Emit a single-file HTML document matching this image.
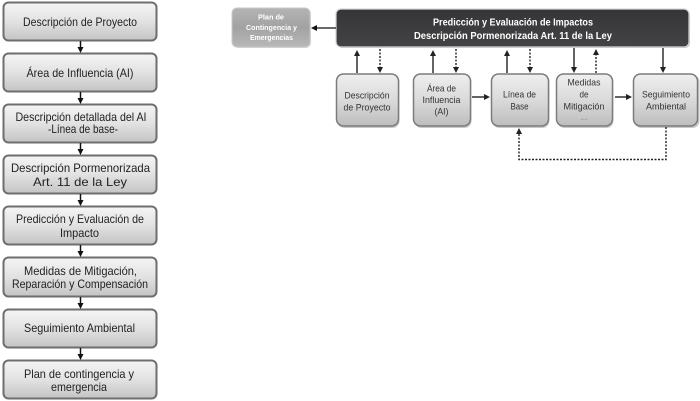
<!DOCTYPE html>
<html><head><meta charset="utf-8"><style>
html,body{margin:0;padding:0;background:#fff;}
svg{display:block;}
text{font-family:"Liberation Sans",sans-serif;}
</style></head><body>
<svg width="700" height="401" viewBox="0 0 700 401" xmlns="http://www.w3.org/2000/svg">
<defs>
<linearGradient id="gl" x1="0" y1="0" x2="0" y2="1">
<stop offset="0" stop-color="#f5f5f5"/><stop offset="0.5" stop-color="#e2e2e2"/><stop offset="1" stop-color="#c4c4c4"/>
</linearGradient>
<linearGradient id="gr" x1="0" y1="0" x2="0" y2="1">
<stop offset="0" stop-color="#efefef"/><stop offset="0.5" stop-color="#dadada"/><stop offset="1" stop-color="#bdbdbd"/>
</linearGradient>
<linearGradient id="gd" x1="0" y1="0" x2="0" y2="1">
<stop offset="0" stop-color="#353537"/><stop offset="1" stop-color="#434345"/>
</linearGradient>
<linearGradient id="gp" x1="0" y1="0" x2="0" y2="1">
<stop offset="0" stop-color="#b4b4b4"/><stop offset="0.5" stop-color="#a2a2a2"/><stop offset="1" stop-color="#b8b8b8"/>
</linearGradient>
</defs>

<!-- LEFT COLUMN -->
<g stroke="#6e6e6e" stroke-width="2" fill="url(#gl)">
<rect x="3.5" y="2.5" width="153" height="38" rx="5"/>
<rect x="3.5" y="53.5" width="153" height="38" rx="5"/>
<rect x="3.5" y="104.5" width="153" height="38" rx="5"/>
<rect x="3.5" y="155.5" width="153" height="38" rx="5"/>
<rect x="3.5" y="206.5" width="153" height="38" rx="5"/>
<rect x="3.5" y="257.5" width="153" height="39" rx="5"/>
<rect x="3.5" y="309.5" width="153" height="38" rx="5"/>
<rect x="3.5" y="360.5" width="153" height="38" rx="5"/>
</g>
<g stroke="#111" stroke-width="1.5">
<line x1="80.5" y1="41" x2="80.5" y2="48"/>
<line x1="80.5" y1="92" x2="80.5" y2="99"/>
<line x1="80.5" y1="143" x2="80.5" y2="150"/>
<line x1="80.5" y1="194" x2="80.5" y2="201"/>
<line x1="80.5" y1="245" x2="80.5" y2="252"/>
<line x1="80.5" y1="297" x2="80.5" y2="304"/>
<line x1="80.5" y1="348" x2="80.5" y2="355"/>
</g>
<g fill="#111">
<polygon points="77.5,47 83.5,47 80.5,53"/>
<polygon points="77.5,98 83.5,98 80.5,104"/>
<polygon points="77.5,149 83.5,149 80.5,155"/>
<polygon points="77.5,200 83.5,200 80.5,206"/>
<polygon points="77.5,251 83.5,251 80.5,257"/>
<polygon points="77.5,303 83.5,303 80.5,309"/>
<polygon points="77.5,354 83.5,354 80.5,360"/>
</g>
<g font-size="12" fill="#222" text-anchor="middle">
<text x="80" y="26" textLength="114" lengthAdjust="spacingAndGlyphs">Descripción de Proyecto</text>
<text x="80" y="77" textLength="107" lengthAdjust="spacingAndGlyphs">Área de Influencia (AI)</text>
<text x="81" y="121" textLength="131" lengthAdjust="spacingAndGlyphs">Descripción detallada del AI</text>
<text x="83" y="133" textLength="70" lengthAdjust="spacingAndGlyphs">-Línea de base-</text>
<text x="80.5" y="172" textLength="139" lengthAdjust="spacingAndGlyphs">Descripción Pormenorizada</text>
<text x="80" y="186" textLength="94" lengthAdjust="spacingAndGlyphs">Art. 11 de la Ley</text>
<text x="80" y="223" textLength="128" lengthAdjust="spacingAndGlyphs">Predicción y Evaluación de</text>
<text x="79.5" y="237" textLength="39" lengthAdjust="spacingAndGlyphs">Impacto</text>
<text x="80.5" y="275" textLength="113" lengthAdjust="spacingAndGlyphs">Medidas de Mitigación,</text>
<text x="80" y="288" textLength="136" lengthAdjust="spacingAndGlyphs">Reparación y Compensación</text>
<text x="79.5" y="332" textLength="111" lengthAdjust="spacingAndGlyphs">Seguimiento Ambiental</text>
<text x="79" y="378" textLength="110" lengthAdjust="spacingAndGlyphs">Plan de contingencia  y</text>
<text x="79" y="391" textLength="56" lengthAdjust="spacingAndGlyphs">emergencia</text>
</g>

<!-- RIGHT DIAGRAM -->
<rect x="233" y="9" width="78" height="39" rx="5" fill="#d8d8d8"/>
<rect x="232" y="8" width="78" height="39" rx="5" fill="url(#gp)" stroke="#c8c8c8" stroke-width="1"/>
<g font-size="7" font-weight="bold" fill="#fff" text-anchor="middle">
<text x="271" y="19.5" textLength="26" lengthAdjust="spacingAndGlyphs">Plan de</text>
<text x="271.5" y="30" textLength="51" lengthAdjust="spacingAndGlyphs">Contingencia y</text>
<text x="271.5" y="40" textLength="43" lengthAdjust="spacingAndGlyphs">Emergencias</text>
</g>

<rect x="337" y="10" width="353" height="38" rx="5" fill="#bdbdbd"/>
<rect x="336" y="9" width="353" height="38" rx="5" fill="url(#gd)" stroke="#d6d6d6" stroke-width="1.2"/>
<g font-size="10" font-weight="bold" fill="#fff" text-anchor="middle">
<text x="513" y="25.5" textLength="160" lengthAdjust="spacingAndGlyphs">Predicción y Evaluación  de Impactos</text>
<text x="513" y="39" textLength="198" lengthAdjust="spacingAndGlyphs">Descripción Pormenorizada  Art. 11 de la Ley</text>
</g>

<line x1="336" y1="28" x2="316" y2="28" stroke="#111" stroke-width="1.3"/>
<polygon points="311,28 317,25 317,31" fill="#111"/>

<g fill="#c9c9c9">
<rect x="337.5" y="75" width="62" height="53" rx="7"/>
<rect x="414.5" y="75" width="57" height="53" rx="7"/>
<rect x="492.5" y="75" width="57" height="53" rx="7"/>
<rect x="557.5" y="75" width="56" height="53" rx="7"/>
<rect x="634.5" y="75" width="65" height="53" rx="7"/>
</g>
<g stroke="#7c7c7c" stroke-width="1.5" fill="url(#gr)">
<rect x="336.5" y="74" width="62" height="52" rx="7"/>
<rect x="413.5" y="74" width="57" height="52" rx="7"/>
<rect x="491.5" y="74" width="57" height="52" rx="7"/>
<rect x="556.5" y="74" width="56" height="52" rx="7"/>
<rect x="633.5" y="74" width="64" height="52" rx="7"/>
</g>
<g font-size="9.5" fill="#333" text-anchor="middle">
<text x="367" y="98.5" textLength="45" lengthAdjust="spacingAndGlyphs">Descripción</text>
<text x="367" y="110.5" textLength="47" lengthAdjust="spacingAndGlyphs">de Proyecto</text>
<text x="441.5" y="91.5" textLength="29" lengthAdjust="spacingAndGlyphs">Área de</text>
<text x="441.5" y="103" textLength="38" lengthAdjust="spacingAndGlyphs">Influencia</text>
<text x="441.5" y="114.5" textLength="14" lengthAdjust="spacingAndGlyphs">(AI)</text>
<text x="519.5" y="97.5" textLength="33" lengthAdjust="spacingAndGlyphs">Línea de</text>
<text x="519.5" y="109.5" textLength="18" lengthAdjust="spacingAndGlyphs">Base</text>
<text x="584" y="85.5" textLength="33" lengthAdjust="spacingAndGlyphs">Medidas</text>
<text x="584" y="97.5" textLength="9" lengthAdjust="spacingAndGlyphs">de</text>
<text x="584" y="109.5" textLength="41" lengthAdjust="spacingAndGlyphs">Mitigación</text>
<text x="666" y="97.5" textLength="48" lengthAdjust="spacingAndGlyphs">Seguimiento</text>
<text x="666" y="109.5" textLength="40" lengthAdjust="spacingAndGlyphs">Ambiental</text>
</g>
<text x="584" y="119.5" font-size="5" fill="#555" text-anchor="middle">.....</text>

<g stroke="#222" stroke-width="1.4">
<line x1="357" y1="73" x2="357" y2="55"/>
<line x1="433" y1="73" x2="433" y2="55"/>
<line x1="507" y1="73" x2="507" y2="55"/>
<line x1="574" y1="48" x2="574" y2="67"/>
<line x1="663" y1="48" x2="663" y2="67"/>
</g>
<g fill="#222">
<polygon points="357,50 354,56 360,56"/>
<polygon points="433,50 430,56 436,56"/>
<polygon points="507,50 504,56 510,56"/>
<polygon points="574,73 571,67 577,67"/>
<polygon points="663,73 660,67 666,67"/>
</g>
<g stroke="#222" stroke-width="1.4" stroke-dasharray="2,1.5">
<line x1="380" y1="49" x2="380" y2="67"/>
<line x1="456" y1="49" x2="456" y2="67"/>
<line x1="530" y1="49" x2="530" y2="67"/>
<line x1="596" y1="73" x2="596" y2="55"/>
</g>
<g fill="#222">
<polygon points="380,73 377,67 383,67"/>
<polygon points="456,73 453,67 459,67"/>
<polygon points="530,73 527,67 533,67"/>
<polygon points="596,49 593,55 599,55"/>
</g>

<line x1="472" y1="97" x2="485" y2="97" stroke="#222" stroke-width="1.4"/>
<polygon points="490,97 484,94 484,100" fill="#222"/>
<line x1="615" y1="97" x2="627" y2="97" stroke="#222" stroke-width="1.4"/>
<polygon points="632,97 626,94 626,100" fill="#222"/>

<polyline points="666,127 666,159.5 519,159.5 519,134" fill="none" stroke="#222" stroke-width="1.4" stroke-dasharray="2,1.5"/>
<polygon points="519,128 516,134 522,134" fill="#222"/>
</svg>
</body></html>
